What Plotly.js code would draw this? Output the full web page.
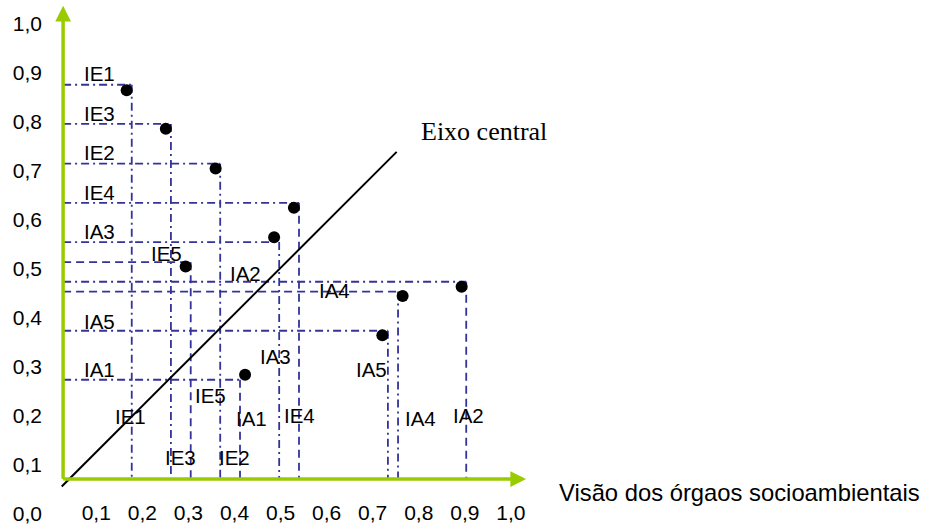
<!DOCTYPE html>
<html><head><meta charset="utf-8">
<script src="https://cdn.plot.ly/plotly-3.0.1.min.js"></script>
<style>html,body{margin:0;padding:0;background:#fff}#chart{width:925px;height:528px}</style>
</head><body><div id="chart"></div>
<script>
// ---- data ----
const labels  = ['IE1','IE3','IE2','IE4','IA3','IE5','IA2','IA4','IA5','IA1'];
const pointX  = [0.166,0.251,0.359,0.529,0.486,0.294,0.893,0.765,0.721,0.423];
const pointY  = [0.865,0.786,0.705,0.625,0.565,0.505,0.464,0.445,0.365,0.284];
const guideX  = [0.177,0.262,0.369,0.540,0.497,0.305,0.903,0.755,0.733,0.412];
const guideY  = [0.876,0.796,0.715,0.635,0.555,0.514,0.474,0.454,0.374,0.274];
const diagX   = [0.025,0.752];
const diagY   = [0.056,0.739];
const xTickVals = [0.1,0.2,0.3,0.4,0.5,0.6,0.7,0.8,0.9,1.0];
const xTickText = ['0,1','0,2','0,3','0,4','0,5','0,6','0,7','0,8','0,9','1,0'];
const yTickVals = [0,0.1,0.2,0.3,0.4,0.5,0.6,0.7,0.8,0.9,1.0];
const yTickText = ['0,0','0,1','0,2','0,3','0,4','0,5','0,6','0,7','0,8','0,9','1,0'];
const centralLabel = 'Eixo central';
const xTitle = 'Visão dos órgaos socioambientais';

// ---- placement / style (layout, not data) ----
const hLabelX = [0.108,0.108,0.108,0.108,0.108,0.253,0.423,0.618,0.108,0.108];
const hLabelY = [0.898,0.818,0.737,0.657,0.576,0.532,0.491,0.457,0.392,0.295];
const vLabelX = [0.175,0.282,0.400,0.542,0.490,0.347,0.908,0.803,0.698,0.437];
const vLabelY = [0.200,0.116,0.116,0.202,0.321,0.241,0.202,0.194,0.294,0.195];
const DD = '8px,4px,2px,4px', DASH = '8px,5px';
const hDash = [DD,DD,DD,DD,DD,DASH,DD,DASH,DD,DD];
const vDash = [DD,DD,DD,DASH,DD,DASH,DASH,DD,DD,DASH];
const AX0 = 0.028, AY0 = 0.0714, AX_END = 1.033, AY_END = 1.037;
const GREEN = '#99cc00', NAVY = '#333399';
const SANS = 'Liberation Sans, Arial, sans-serif';
const SERIF = 'Liberation Serif, Times New Roman, serif';

const traces = [];
labels.forEach((lab, i) => {
  traces.push({x:[AX0, guideX[i]], y:[guideY[i], guideY[i]], mode:'lines',
    line:{color:NAVY, width:1.8, dash:hDash[i]}, hoverinfo:'skip'});
  traces.push({x:[guideX[i], guideX[i]], y:[guideY[i], AY0], mode:'lines',
    line:{color:NAVY, width:1.8, dash:vDash[i]}, hoverinfo:'skip'});
});
traces.push({x:diagX, y:diagY, mode:'lines', line:{color:'#000', width:2}, hoverinfo:'skip'});
traces.push({x:pointX, y:pointY, mode:'markers', text:labels,
  marker:{color:'#000', size:12}});

const annotations = [];
labels.forEach((lab, i) => {
  annotations.push({x:hLabelX[i], y:hLabelY[i], xref:'x', yref:'y', text:lab, showarrow:false,
    xanchor:'center', yanchor:'middle', font:{family:SANS, size:20.5, color:'#000'}});
  annotations.push({x:vLabelX[i], y:vLabelY[i], xref:'x', yref:'y', text:lab, showarrow:false,
    xanchor:'center', yanchor:'middle', font:{family:SANS, size:20.5, color:'#000'}});
});
annotations.push({x:0.8005, y:0.7816, xref:'x', yref:'y', text:centralLabel, showarrow:false,
  xanchor:'left', yanchor:'middle', font:{family:SERIF, size:26, color:'#000'}});
annotations.push({x:1.1, y:0.0429, xref:'x', yref:'y', text:xTitle, showarrow:false,
  xanchor:'left', yanchor:'middle', font:{family:SANS, size:23.8, color:'#000'}});
// axis arrow heads
annotations.push({x:AX0, y:AY_END, ax:AX0, ay:AY0, xref:'x', yref:'y', axref:'x', ayref:'y',
  text:'', showarrow:true, arrowhead:2, arrowsize:1.05, arrowwidth:3, arrowcolor:GREEN});
annotations.push({x:AX_END, y:AY0, ax:AX0, ay:AY0, xref:'x', yref:'y', axref:'x', ayref:'y',
  text:'', showarrow:true, arrowhead:2, arrowsize:1.05, arrowwidth:3, arrowcolor:GREEN});

const shapes = [
  {type:'line', xref:'x', yref:'y', x0:AX0, y0:AY0, x1:AX0, y1:AY_END-0.03, line:{color:GREEN, width:3}},
  {type:'line', xref:'x', yref:'y', x0:AX0, y0:AY0, x1:AX_END-0.03, y1:AY0, line:{color:GREEN, width:3}}
];

const tickfont = {family:SANS, size:21, color:'#000'};
const layout = {
  width:925, height:528, margin:{l:46, r:0, t:0, b:0},
  paper_bgcolor:'#fff', plot_bgcolor:'#fff', showlegend:false,
  xaxis:{range:[-0.00912,1.8988], anchor:'free', position:0.056, showgrid:false, zeroline:false,
    showline:false, ticks:'', tickmode:'array', tickvals:xTickVals, ticktext:xTickText, tickfont:tickfont},
  yaxis:{range:[-0.02857,1.04898], showgrid:false, zeroline:false, showline:false, ticks:'',
    ticklabelstandoff:3,
    tickmode:'array', tickvals:yTickVals, ticktext:yTickText, tickfont:tickfont},
  shapes:shapes, annotations:annotations
};
Plotly.newPlot('chart', traces, layout, {staticPlot:true, displayModeBar:false});
</script></body></html>
